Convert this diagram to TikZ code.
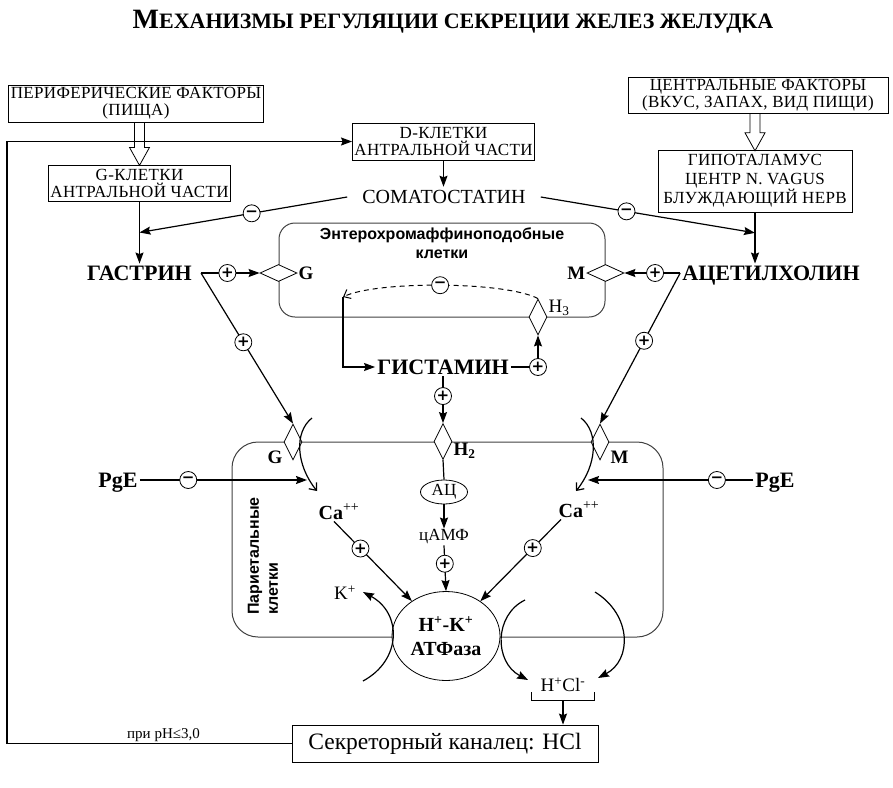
\documentclass[tikz,border=0pt]{standalone}
\usepackage{fontspec}
\setmainfont{Liberation Serif}
\setsansfont{Liberation Sans}
\newfontfamily\boxfont[LetterSpace=2]{Liberation Serif}
\newfontfamily\sgnfont{DejaVu Sans}
\usepackage{tikz}
\usetikzlibrary{arrows.meta,positioning,calc,shapes.geometric}
\tikzset{
  blk/.style     = {draw=black, line width=0.8pt, rectangle, align=center,
                    inner sep=2pt, font=\boxfont\fontsize{17}{17}\selectfont},
  cellbox/.style = {draw=black!75, line width=1pt, rectangle, inner sep=0pt},
  celltxt/.style = {font=\sffamily\bfseries\fontsize{16}{19}\selectfont,
                    inner sep=1pt},
  hrm/.style     = {font=\bfseries\fontsize{22}{24}\selectfont, inner sep=2pt,
                    text height=14.5pt, text depth=0pt},
  rlb/.style     = {font=\bfseries\fontsize{19}{22}\selectfont, inner sep=1pt},
  txt/.style     = {font=\fontsize{19}{22}\selectfont, inner sep=1pt},
  rcp/.style     = {draw=black, line width=0.8pt, diamond, fill=white,
                    inner sep=0pt, minimum width=37pt, minimum height=17pt},
  rcpv/.style    = {rcp, minimum width=18pt, minimum height=36pt},
  sgn/.style     = {draw=black, line width=0.8pt, circle, fill=white, solid,
                    inner sep=0pt, minimum size=17pt,
                    font=\sgnfont\bfseries\fontsize{15}{15}\selectfont},
  ar/.style      = {-{Stealth[length=11pt,width=8pt,inset=1.5pt]}, line width=1.2pt},
  opar/.style    = {-{Straight Barb[length=6pt,width=10pt]}, line width=1.2pt},
  lnk/.style     = {line width=1.2pt},
  holarr/.pic    = {\draw[line width=0.8pt] (-5,0) -- (-5,{#1-18}) -- (-10,{#1-18})
                    -- (0,#1) -- (10,{#1-18}) -- (5,{#1-18}) -- (5,0);},
}

\begin{document}
\begin{tikzpicture}[x=1pt, y=-1pt]
\useasboundingbox (0,0) rectangle (893,787);

%% ---- title -----------------------------------------------------------
\node[font=\bfseries\fontsize{22}{26}\selectfont] (title) at (453,22)
  {{\fontsize{28}{30}\selectfont М}ЕХАНИЗМЫ РЕГУЛЯЦИИ СЕКРЕЦИИ ЖЕЛЕЗ ЖЕЛУДКА};

%% ---- cell outlines ---------------------------------------------------
\node[cellbox, rounded corners=16pt, minimum width=326pt, minimum height=94pt]
  (ecl) at (442,270) {};
\node[cellbox, rounded corners=26pt, minimum width=431pt, minimum height=195pt]
  (par) at (447.5,539.5) {};

%% ---- factors and antral cells ----------------------------------------
\node[blk, minimum width=254pt, minimum height=37pt] (peri) at (136,103.5)
  {ПЕРИФЕРИЧЕСКИЕ ФАКТОРЫ\\(ПИЩА)};
\node[blk, minimum width=181pt, minimum height=36pt] (gcell) at (139.5,183)
  {G-КЛЕТКИ\\АНТРАЛЬНОЙ ЧАСТИ};
\node[blk, minimum width=181pt, minimum height=37pt] (dcell) at (443.5,141.5)
  {D-КЛЕТКИ\\АНТРАЛЬНОЙ ЧАСТИ};
\node[blk, minimum width=260pt, minimum height=35pt] (cent) at (758,95.5)
  {ЦЕНТРАЛЬНЫЕ ФАКТОРЫ\\(ВКУС, ЗАПАХ, ВИД ПИЩИ)};
\node[blk, minimum width=194pt, minimum height=62pt,
      font=\boxfont\fontsize{17}{19}\selectfont] (hypo) at (755,181)
  {ГИПОТАЛАМУС\\ЦЕНТР N. VAGUS\\БЛУЖДАЮЩИЙ НЕРВ};
\node[font=\fontsize{20}{24}\selectfont, inner xsep=15pt] (somat) at (444,197)
  {СОМАТОСТАТИН};

%% ---- hormones and ECL cell ------------------------------------------
\node[hrm] (gast) at (139.5,273) {ГАСТРИН};
\node[hrm] (ach) at (771,273) {АЦЕТИЛХОЛИН};
\node[celltxt, align=center] (eclt) at (442,243)
  {Энтерохромаффиноподобные\\клетки};
\node[rcp] (gecl) at (ecl.west |- gast) {};
\node[rlb, anchor=west] (gecll) at (gecl.east) {G};
\node[rcp] (mecl) at (ecl.east |- ach) {};
\node[rlb, anchor=east] (mecll) at (mecl.west) {M};
\node[rcpv] (h3) at (538,317) {};
\node[txt, anchor=south west] (h3l) at (h3.east) {H\textsubscript{3}};
\node[hrm] (hist) at (443,367) {ГИСТАМИН};
\coordinate (ret) at (343,297);

%% ---- parietal cell ---------------------------------------------------
\node[celltxt, rotate=90, align=left] (part) at (263,556)
  {Париетальные\\клетки};
\node[rcpv] (h2) at (hist |- par.north) {};
\node[rlb, anchor=north west] (h2l) at (h2.east) {H\textsubscript{2}};
\node[rcpv] (gpar) at (293,442) {};
\node[rlb, anchor=east] (gparl) at ([yshift=-15pt]gpar.west) {G};
\node[rcpv] (mpar) at (600,442) {};
\node[rlb, anchor=west] (mparl) at ([yshift=-15pt]mpar.east) {M};
\node[draw, ellipse, line width=0.8pt, minimum width=47pt, minimum height=24pt,
      inner sep=0pt, font=\fontsize{17}{17}\selectfont] (ac) at (444,492) {АЦ};
\node[font=\fontsize{17}{20}\selectfont, inner sep=1pt] (camp) at (444,537) {цАМФ};
\node[hrm] (pgel) at (118,480) {PgE};
\node[hrm] (pger) at (775,480) {PgE};
\node[hrm, font=\bfseries\fontsize{20}{24}\selectfont] (cal) at (339,512)
  {Ca\textsuperscript{\mdseries ++}};
\node[hrm, font=\bfseries\fontsize{20}{24}\selectfont] (car) at (579,510)
  {Ca\textsuperscript{\mdseries ++}};
\node[draw, ellipse, line width=0.8pt, fill=white, minimum width=108pt,
      minimum height=89pt, inner sep=0pt, align=center,
      font=\bfseries\fontsize{20}{24}\selectfont] (atp) at (446,636)
  {H\textsuperscript{+}-K\textsuperscript{+}\\АТФаза};
\node[txt] (kpl) at (345,593) {K\textsuperscript{+}};
\node[txt] (hcl) at (563,685) {H\textsuperscript{+}Cl\textsuperscript{-}};
\node[blk, minimum width=306pt, minimum height=37pt,
      font=\fontsize{23.5}{26}\selectfont] (sec) at (445,743.5)
  {Секреторный каналец: HCl};

%% ---- arrows: top -----------------------------------------------------
\pic at (peri.south -| gcell.north) {holarr=43};
\pic at (cent.south -| hypo.north) {holarr=37};
\draw[ar] (gcell.south) -- (gcell.south |- gast.north);
\draw[ar] (dcell.south) -- (dcell.south |- somat.north);
\draw[ar] (hypo.south) -- (hypo.south |- ach.north);

\coordinate (gin) at ($(gcell.south)!0.5!(gcell.south |- gast.north)$);
\coordinate (ain) at ($(hypo.south)!0.4!(hypo.south |- ach.north)$);
\draw[ar] (somat.west) -- (gin) node[sgn, pos=0.46] (sm1) {−};
\draw[ar] (somat.east) -- (ain) node[sgn, pos=0.4] (sm2) {−};

%% ---- gastrin and acetylcholine ---------------------------------------
\coordinate (gs) at ([xshift=7pt]gast.east);
\draw[ar] (gs) -- (gecl.west) node[sgn, pos=0.45] (gp1) {+};
\draw[ar] (gs) -- (gpar.north) node[sgn, pos=0.46] (gp2) {+};
\coordinate (as) at (ach.west);
\draw[ar] (as) -- (mecl.east) node[sgn, pos=0.45] (ap1) {+};
\draw[ar] (as) -- (mpar.north) node[sgn, pos=0.45] (ap2) {+};

%% ---- histamine loop --------------------------------------------------
\draw[opar, dashed, line width=1pt, dash pattern=on 5pt off 4pt]
  (h3.north) .. controls (505,281) and (375,281) .. (ret)
  node[sgn, pos=0.5] (hm) {−};
\draw[ar] (ret) |- (hist.west);
\draw[ar] (hist.east) -| node[sgn, pos=0.5] (hp1) {+} (h3.south);
\draw[ar] (hist.south) -- (h2.north) node[sgn, pos=0.42] (hp2) {+};

%% ---- parietal cell ---------------------------------------------------
\draw[lnk] (h2.south) -- (ac.north);
\draw[ar] (ac.south) -- (camp.north);
\draw[ar] (camp.south) -- (atp.north) node[sgn, pos=0.4] (cp) {+};

\coordinate (cli) at (307,480);
\coordinate (cri) at (588,480);
\draw[ar] (pgel.east) -- (cli) node[sgn, pos=0.29] (pm1) {−};
\draw[ar] (pger.west) -- (cri) node[sgn, pos=0.22] (pm2) {−};

% receptor channels
\draw[opar] (312,418) .. controls (294,432) and (296,465) .. (317,491);
\draw[opar] (581,418) .. controls (599,432) and (597,465) .. (576,491);

\draw[ar] ([xshift=-5pt]cal.south) -- (atp) node[sgn, pos=0.34] (cp1) {+};
\draw[ar] ([xshift=-18pt]car.south) -- (atp) node[sgn, pos=0.35] (cp2) {+};

% pump
\draw[ar] (363,681) .. controls (402,660) and (402,613) .. (363,592);
\draw[ar] (525,600) .. controls (494,615) and (494,662) .. (528,680);
\draw[ar] (595,592) .. controls (632,615) and (632,660) .. (598,678);

%% ---- secretion and feedback ------------------------------------------
\coordinate (hb) at (563,700);
\draw[line width=0.8pt] (531,692) |- (hb) -| (594,692);
\draw[ar] (hb) -- (hb |- sec.north);
\draw[ar] (sec.west) -- node[above, pos=0.45, font=\fontsize{15}{18}\selectfont,
      inner sep=1pt] (ph) {при pH≤3,0} (7,743.5) |- (dcell.west);
\end{tikzpicture}
\end{document}
